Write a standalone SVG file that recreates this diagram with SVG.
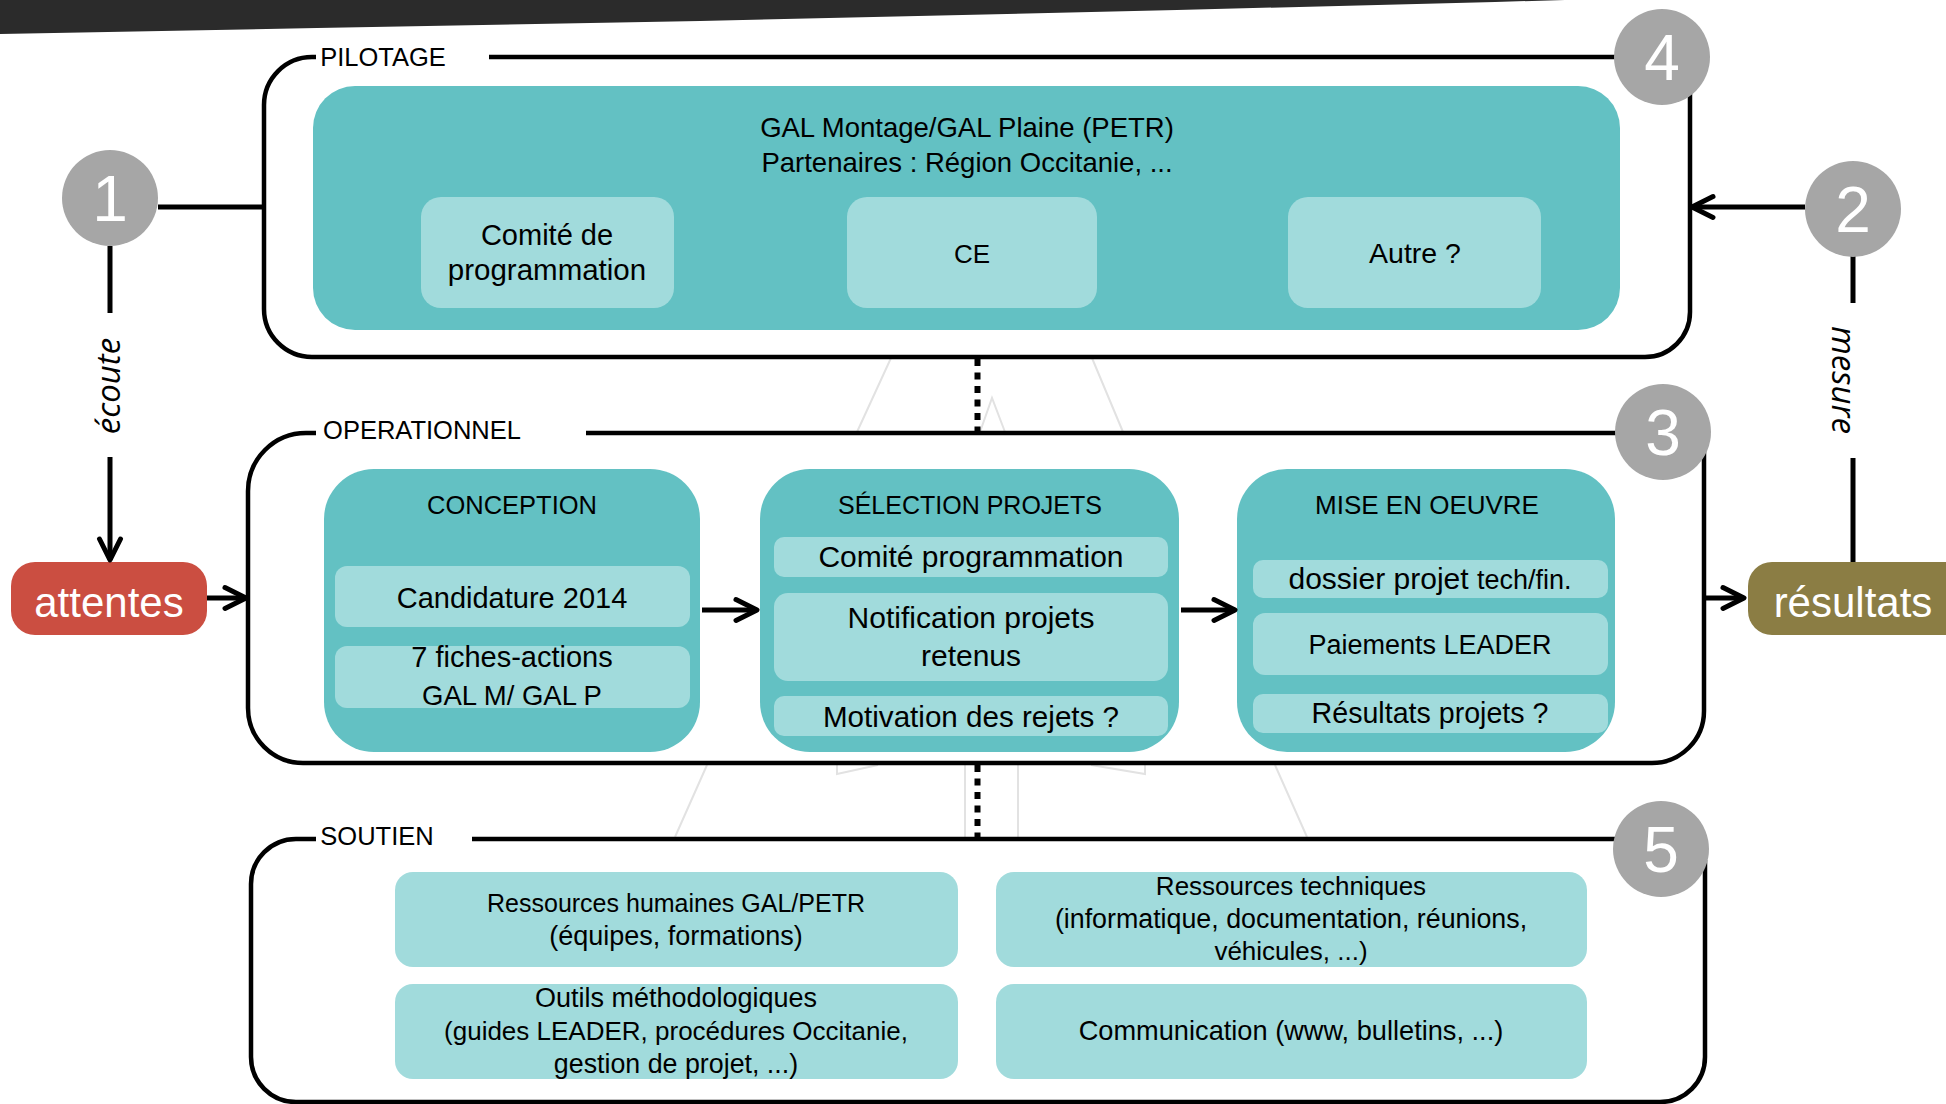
<svg xmlns="http://www.w3.org/2000/svg" width="1946" height="1104" viewBox="0 0 1946 1104">
<style>
text{font-family:"Liberation Sans",Arial,sans-serif;fill:#000;text-anchor:middle}
.frame{fill:none;stroke:#000;stroke-width:4.5}
.conn{fill:none;stroke:#000;stroke-width:5}
.dot{fill:none;stroke:#000;stroke-width:6;stroke-dasharray:7 6.5}
.deco{fill:none;stroke:#e2e2e2;stroke-width:2}
.dark{fill:#63C1C3}
.light{fill:#A1DBDC}
.num{fill:#A6A6A6}
.numt{fill:#fff;font-size:64px}
.lbl{font-size:25.5px}
.ital{font-family:"Open Sans","DejaVu Sans",sans-serif;font-style:italic;font-size:33px}
.big{fill:#fff;font-size:42px}
</style>
<defs>
<marker id="chev" markerUnits="userSpaceOnUse" markerWidth="30" markerHeight="30" viewBox="-26 -15 30 30" refX="0" refY="0" orient="auto">
<path d="M-21,-10.5 L0,0 L-21,10.5" fill="none" stroke="#000" stroke-width="5" stroke-linejoin="round" stroke-linecap="round"/>
</marker>
</defs>
<rect width="1946" height="1104" fill="#fff"/>
<polygon points="0,0 1565,0 1495,2 1177,10 700,21 317,28 0,34" fill="#2B2B2B"/>

<g id="decoration">
<path class="deco" d="M891,358 L857,432 M1092,358 L1123,432 M980,432 L992,398 L1005,432 M707,765 L675,837 M965,765 V837 M1018,765 V837 M1275,765 L1307,837 M837,765 V774 L878,765 M1091,765 L1145,774 V765"/>
</g>

<g id="pilotage">
<path class="frame" d="M316,57 H312 A48,48 0 0 0 264,105 V309 A48,48 0 0 0 312,357 H1645 A45,45 0 0 0 1690,312 V80 M489,57 H1640"/>
<text class="lbl" x="383" y="66">PILOTAGE</text>
<rect class="dark" x="313" y="86" width="1307" height="244" rx="42"/>
<text x="967" y="137" style="font-size:27.5px">GAL Montage/GAL Plaine (PETR)</text>
<text x="967" y="172" style="font-size:27.5px">Partenaires : Région Occitanie, ...</text>
</g>
<g id="comite-de-programmation">
<rect class="light" x="421" y="197" width="253" height="111" rx="20"/>
<text x="547" y="245" style="font-size:29px">Comité de</text>
<text x="547" y="280" style="font-size:29.5px">programmation</text>
</g>
<g id="ce">
<rect class="light" x="847" y="197" width="250" height="111" rx="20"/>
<text x="972" y="263" style="font-size:26px">CE</text>
</g>
<g id="autre">
<rect class="light" x="1288" y="197" width="253" height="111" rx="20"/>
<text x="1415" y="263" style="font-size:28.5px">Autre ?</text>
</g>

<g id="operationnel">
<path class="frame" d="M316,433 H306 A58,58 0 0 0 248,491 V708 A55,55 0 0 0 303,763 H1652 A52,52 0 0 0 1704,711 V450 M586,433 H1640"/>
<text class="lbl" x="422" y="439">OPERATIONNEL</text>
</g>
<g id="conception">
<rect class="dark" x="324" y="469" width="376" height="283" rx="50"/>
<text x="512" y="514" style="font-size:25.5px">CONCEPTION</text>
<rect class="light" x="335" y="566" width="355" height="61" rx="12"/>
<text x="512" y="608" style="font-size:29px">Candidature 2014</text>
<rect class="light" x="335" y="646" width="355" height="62" rx="12"/>
<text x="512" y="667" style="font-size:29px">7 fiches-actions</text>
<text x="512" y="705" style="font-size:27.5px">GAL M/ GAL P</text>
</g>
<g id="selection-projets">
<rect class="dark" x="760" y="469" width="419" height="283" rx="50"/>
<text x="970" y="514" style="font-size:25px">SÉLECTION PROJETS</text>
<rect class="light" x="774" y="537" width="394" height="40" rx="10"/>
<text x="971" y="567" style="font-size:30px">Comité programmation</text>
<rect class="light" x="774" y="593" width="394" height="88" rx="14"/>
<text x="971" y="628" style="font-size:30px">Notification projets</text>
<text x="971" y="666" style="font-size:30px">retenus</text>
<rect class="light" x="774" y="696" width="394" height="40" rx="10"/>
<text x="971" y="727" style="font-size:29.6px">Motivation des rejets ?</text>
</g>
<g id="mise-en-oeuvre">
<rect class="dark" x="1237" y="469" width="378" height="283" rx="50"/>
<text x="1427" y="514" style="font-size:26px">MISE EN OEUVRE</text>
<rect class="light" x="1253" y="560" width="355" height="38" rx="10"/>
<text x="1430" y="589" style="font-size:30px">dossier projet <tspan style="font-size:27px">tech/fin.</tspan></text>
<rect class="light" x="1253" y="613" width="355" height="62" rx="12"/>
<text x="1430" y="654" style="font-size:27px">Paiements LEADER</text>
<rect class="light" x="1253" y="694" width="355" height="39" rx="10"/>
<text x="1430" y="723" style="font-size:28.6px">Résultats projets ?</text>
</g>

<g id="soutien">
<path class="frame" d="M316,839 H296 A45,45 0 0 0 251,884 V1057 A45,45 0 0 0 296,1102 H1660 A45,45 0 0 0 1705,1057 V860 M472,839 H1640"/>
<text class="lbl" x="377" y="845">SOUTIEN</text>
</g>
<g id="ressources-humaines">
<rect class="light" x="395" y="872" width="563" height="95" rx="18"/>
<text x="676" y="912" style="font-size:25px">Ressources humaines GAL/PETR</text>
<text x="676" y="945" style="font-size:27px">(équipes, formations)</text>
</g>
<g id="ressources-techniques">
<rect class="light" x="996" y="872" width="591" height="95" rx="18"/>
<text x="1291" y="895" style="font-size:26px">Ressources techniques</text>
<text x="1291" y="928" style="font-size:26.8px">(informatique, documentation, réunions,</text>
<text x="1291" y="960" style="font-size:26px">véhicules, ...)</text>
</g>
<g id="outils-methodologiques">
<rect class="light" x="395" y="984" width="563" height="95" rx="18"/>
<text x="676" y="1007" style="font-size:27px">Outils méthodologiques</text>
<text x="676" y="1040" style="font-size:26px">(guides LEADER, procédures Occitanie,</text>
<text x="676" y="1073" style="font-size:26.8px">gestion de projet, ...)</text>
</g>
<g id="communication">
<rect class="light" x="996" y="984" width="591" height="95" rx="18"/>
<text x="1291" y="1040" style="font-size:27.2px">Communication (www, bulletins, ...)</text>
</g>

<g id="attentes">
<rect x="11" y="562" width="196" height="73" rx="24" fill="#CB4E41"/>
<text class="big" x="109" y="617">attentes</text>
</g>
<g id="resultats">
<rect x="1748" y="562" width="240" height="73" rx="24" fill="#8B7D44"/>
<text class="big" x="1853" y="617">résultats</text>
</g>

<g id="connectors">
<path class="conn" d="M158,207 H264"/>
<path class="conn" d="M110,246 V313"/>
<path class="conn" d="M110,457 V560" marker-end="url(#chev)"/>
<path class="conn" d="M207,598 H246" marker-end="url(#chev)"/>
<path class="conn" d="M702,610 H757" marker-end="url(#chev)"/>
<path class="conn" d="M1181,610 H1235" marker-end="url(#chev)"/>
<path class="conn" d="M1706,598 H1744" marker-end="url(#chev)"/>
<path class="conn" d="M1853,562 V458"/>
<path class="conn" d="M1853,303 V255"/>
<path class="conn" d="M1805,207 H1692" marker-end="url(#chev)"/>
<path class="dot" d="M977.5,359 V433"/>
<path class="dot" d="M977.5,765 V839"/>
<text class="ital" transform="translate(120,386) rotate(-90)">écoute</text>
<text class="ital" transform="translate(1832,380) rotate(90)">mesure</text>
</g>

<g id="n1"><circle class="num" cx="110" cy="198" r="48"/><text class="numt" x="110" y="221">1</text></g>
<g id="n2"><circle class="num" cx="1853" cy="209" r="48"/><text class="numt" x="1853" y="232">2</text></g>
<g id="n3"><circle class="num" cx="1663" cy="432" r="48"/><text class="numt" x="1663" y="455">3</text></g>
<g id="n4"><circle class="num" cx="1662" cy="57" r="48"/><text class="numt" x="1662" y="80">4</text></g>
<g id="n5"><circle class="num" cx="1661" cy="849" r="48"/><text class="numt" x="1661" y="872">5</text></g>
</svg>
